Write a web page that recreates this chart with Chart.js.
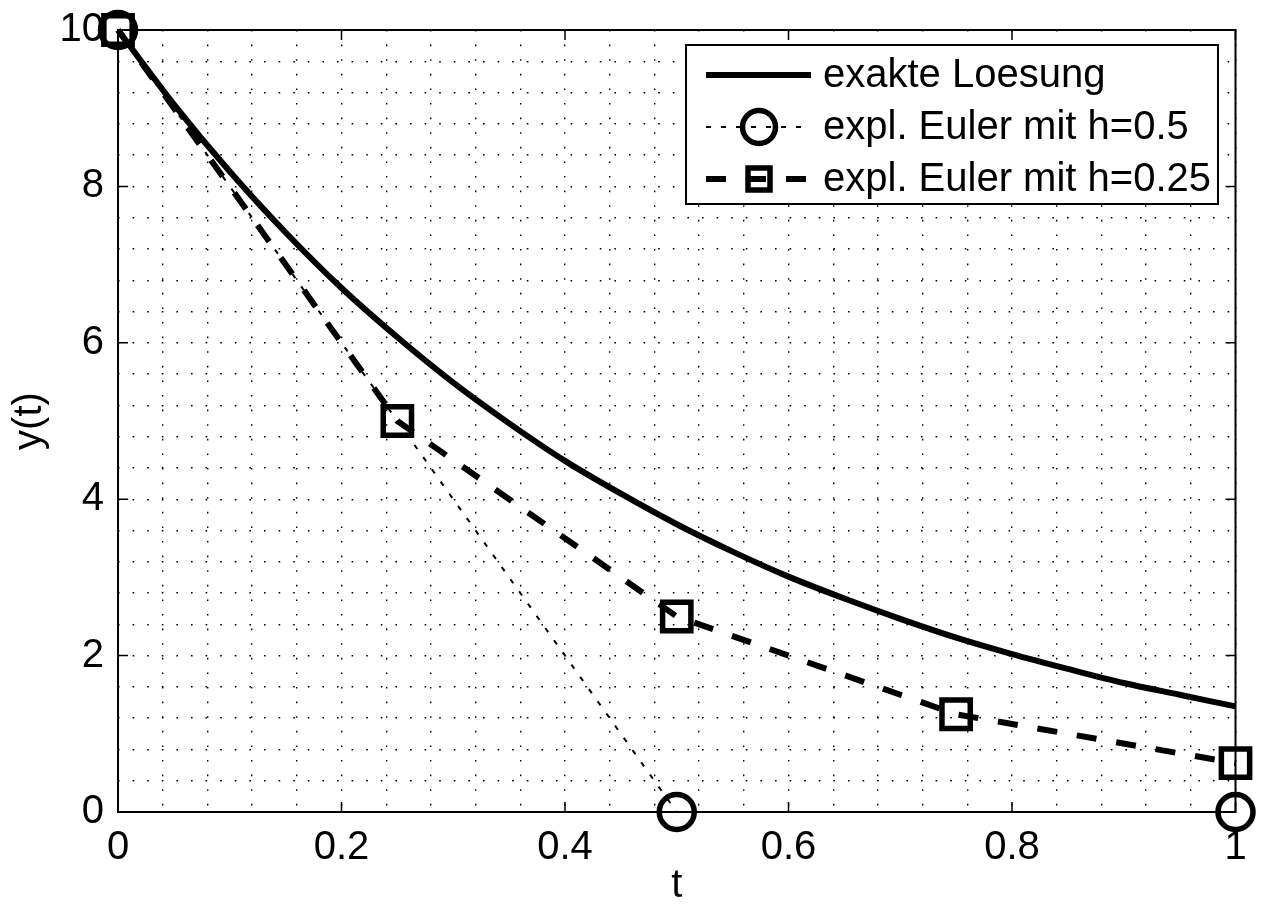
<!DOCTYPE html>
<html>
<head>
<meta charset="utf-8">
<title>Euler vs. exakte Loesung</title>
<script src="https://cdn.jsdelivr.net/npm/chart.js@4"></script>
<style>
  body { margin: 0; background: #fff; }
  canvas { display: block; }
</style>
</head>
<body>
<canvas id="chart" width="1261" height="908"></canvas>
<script>
// values
const tExact = [0, 0.05, 0.1, 0.15, 0.2, 0.25, 0.3, 0.35, 0.4, 0.45, 0.5,
                0.55, 0.6, 0.65, 0.7, 0.75, 0.8, 0.85, 0.9, 0.95, 1];
const yExact = [10, 9.05, 8.19, 7.41, 6.70, 6.07, 5.49, 4.97, 4.49, 4.07, 3.68,
                3.33, 3.01, 2.73, 2.47, 2.23, 2.02, 1.83, 1.65, 1.50, 1.35];
const tEuler05 = [0, 0.5, 1];
const yEuler05 = [10, 0, 0];
const tEuler025 = [0, 0.25, 0.5, 0.75, 1];
const yEuler025 = [10, 5, 2.5, 1.25, 0.625];
const xMajor = [0, 0.2, 0.4, 0.6, 0.8, 1];
const yMajor = [0, 2, 4, 6, 8, 10];
const labels = ["exakte Loesung", "expl. Euler mit h=0.5", "expl. Euler mit h=0.25"];

const FONT = "'Liberation Sans', Arial, Helvetica, sans-serif";

function toPoints(xs, ys) {
    return xs.map((x, i) => ({ x: x, y: ys[i] }));
}

function isMajor(list, v) {
    return list.some(m => Math.abs(m - v) < 1e-9);
}

// inward ticks, box and legend like the matlab figure
const matlabAxes = {
    id: "matlabAxes",
    afterDatasetsDraw(chart) {
        const ctx = chart.ctx;
        const a = chart.chartArea;
        const xs = chart.scales.x;
        const ys = chart.scales.y;
        ctx.save();
        ctx.strokeStyle = "#000";
        ctx.lineWidth = 1.5;
        ctx.setLineDash([]);
        ctx.beginPath();
        xMajor.forEach(v => {
            const px = xs.getPixelForValue(v);
            ctx.moveTo(px, a.bottom); ctx.lineTo(px, a.bottom - 10);
            ctx.moveTo(px, a.top); ctx.lineTo(px, a.top + 10);
        });
        yMajor.forEach(v => {
            const py = ys.getPixelForValue(v);
            ctx.moveTo(a.left, py); ctx.lineTo(a.left + 10, py);
            ctx.moveTo(a.right, py); ctx.lineTo(a.right - 10, py);
        });
        ctx.stroke();
        ctx.lineWidth = 2;
        ctx.strokeRect(a.left, a.top, a.right - a.left, a.bottom - a.top);

        // legend
        const box = { x: 686, y: 45, w: 532, h: 159 };
        ctx.fillStyle = "#fff";
        ctx.fillRect(box.x, box.y, box.w, box.h);
        ctx.lineWidth = 2;
        ctx.strokeRect(box.x, box.y, box.w, box.h);
        const rows = [75, 127, 179];
        chart.data.datasets.forEach((ds, i) => {
            const y = rows[i];
            ctx.strokeStyle = "#000";
            ctx.lineWidth = ds.borderWidth;
            ctx.setLineDash(ds.borderDash || []);
            ctx.beginPath();
            ctx.moveTo(706, y);
            ctx.lineTo(811, y);
            ctx.stroke();
            ctx.setLineDash([]);
            ctx.lineWidth = ds.pointBorderWidth;
            if (ds.pointStyle === "circle") {
                ctx.beginPath();
                ctx.arc(759, y, 16.5, 0, Math.PI * 2);
                ctx.stroke();
            } else if (ds.pointStyle === "rect") {
                ctx.strokeRect(759 - 11, y - 11, 22, 22);
            }
            ctx.fillStyle = "#000";
            ctx.font = "40px " + FONT;
            ctx.textBaseline = "middle";
            ctx.textAlign = "left";
            ctx.fillText(ds.label, 823, y + 1);
        });
        ctx.restore();
    }
};

const ctx = document.getElementById("chart").getContext("2d");
new Chart(ctx, {
    type: "scatter",
    data: {
        datasets: [
            {
                label: labels[0],
                data: toPoints(tExact, yExact),
                showLine: true,
                borderColor: "#000",
                borderWidth: 6,
                pointRadius: 0,
                pointStyle: false,
                cubicInterpolationMode: "monotone",
                clip: false
            },
            {
                label: labels[1],
                data: toPoints(tEuler05, yEuler05),
                showLine: true,
                borderColor: "#000",
                borderWidth: 2,
                borderDash: [5, 10],
                pointStyle: "circle",
                pointRadius: 17.5,
                pointBorderWidth: 5.5,
                pointBorderColor: "#000",
                pointBackgroundColor: "rgba(0,0,0,0)",
                clip: false
            },
            {
                label: labels[2],
                data: toPoints(tEuler025, yEuler025),
                showLine: true,
                borderColor: "#000",
                borderWidth: 6,
                borderDash: [20, 20],
                pointStyle: "rect",
                pointRadius: 20,
                pointBorderWidth: 5.5,
                pointBorderColor: "#000",
                pointBackgroundColor: "rgba(0,0,0,0)",
                clip: false
            }
        ]
    },
    options: {
        responsive: false,
        animation: false,
        layout: { padding: { top: 30, right: 25, left: 0, bottom: 0 } },
        plugins: {
            legend: { display: false },
            tooltip: { enabled: false }
        },
        scales: {
            x: {
                type: "linear",
                min: 0,
                max: 1,
                afterFit(scale) {
                    scale.height = 96;
                    scale.paddingLeft = 0;
                    scale.paddingRight = 0;
                },
                ticks: {
                    stepSize: 0.04,
                    autoSkip: false,
                    maxRotation: 0,
                    padding: 12,
                    color: "#000",
                    font: { family: FONT, size: 40 },
                    callback: v => isMajor(xMajor, v) ? String(Math.round(v * 10) / 10) : ""
                },
                grid: {
                    color: "#000",
                    lineWidth: 1.4,
                    drawTicks: false
                },
                border: { display: false, dash: [1.6, 13] },
                title: {
                    display: true,
                    text: "t",
                    color: "#000",
                    font: { family: FONT, size: 40, lineHeight: 1.1 },
                    padding: { top: 0, bottom: 0 }
                }
            },
            y: {
                type: "linear",
                min: 0,
                max: 10,
                afterFit(scale) {
                    scale.width = 118;
                    scale.paddingTop = 0;
                    scale.paddingBottom = 0;
                },
                ticks: {
                    stepSize: 0.4,
                    autoSkip: false,
                    padding: 14,
                    color: "#000",
                    font: { family: FONT, size: 40 },
                    callback: v => isMajor(yMajor, v) ? String(Math.round(v)) : ""
                },
                grid: {
                    color: "#000",
                    lineWidth: 1.4,
                    drawTicks: false
                },
                border: { display: false, dash: [1.6, 13] },
                title: {
                    display: true,
                    text: "y(t)",
                    color: "#000",
                    font: { family: FONT, size: 40, lineHeight: 1.2 },
                    padding: { top: 6, bottom: 0 }
                }
            }
        }
    },
    plugins: [matlabAxes]
});
</script>
</body>
</html>
